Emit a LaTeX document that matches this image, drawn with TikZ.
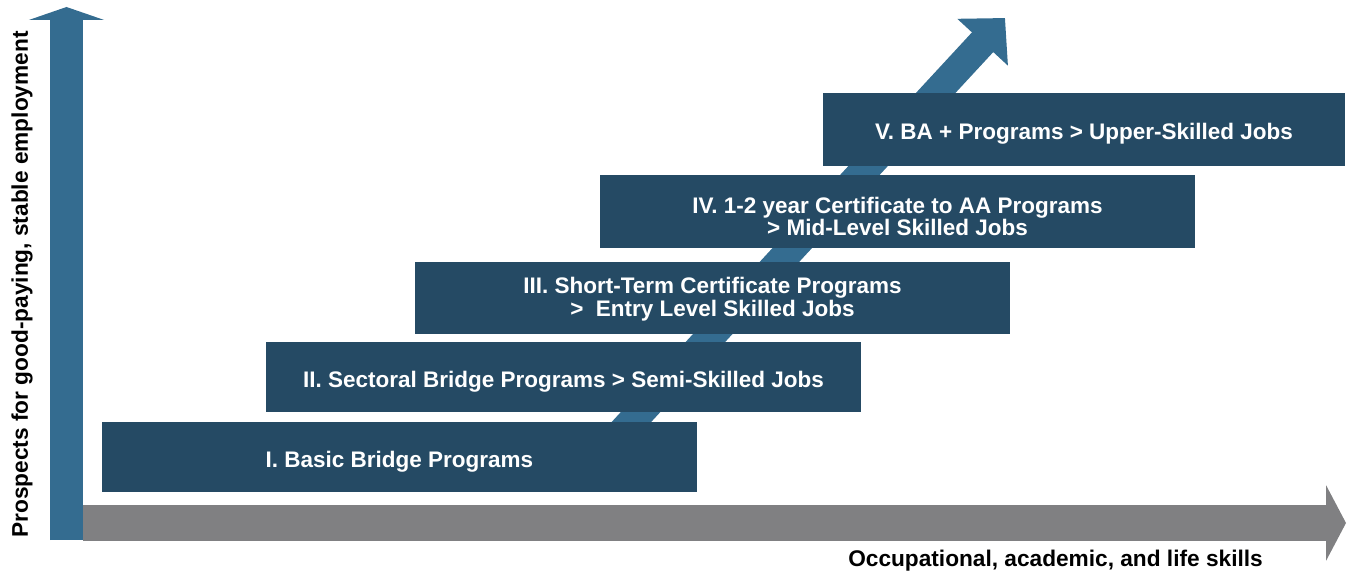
\documentclass[tikz,border=0pt]{standalone}
\usepackage{fontspec}
\setmainfont{Liberation Sans}
\definecolor{stageblue}{RGB}{37, 74, 100}
\definecolor{arrowblue}{RGB}{52, 108, 144}
\definecolor{axisgray}{RGB}{128, 128, 130}
\usetikzlibrary{arrows.meta}
\usetikzlibrary{positioning}
\newcommand{\stagedrop}[1]{\rule{0pt}{#1}}
\tikzset{
  stage/.style={
    fill=stageblue, text=white, inner sep=0,
    minimum width=11.9cm, minimum height=1.4cm,
    align=center, font=\bfseries\fontsize{12.8}{13}\selectfont
  },
  axislabel/.style={font=\bfseries\fontsize{12.9}{14}\selectfont, inner sep=0}
}

\begin{document}
\begin{tikzpicture}
    \useasboundingbox (0,0) rectangle (27.02,11.4);

    % axes
    \coordinate (xstart) at (1.66,0.94);
    \coordinate (xend) at (26.92,0.94);
    \coordinate (ystart) at (1.33,0.6);
    \coordinate (yend) at (1.33,11.26);
    \draw [axisgray, line width=0.72cm,
           -{Triangle[length=0.4cm,width=1.5cm]}] (xstart) -- (xend);
    \draw [arrowblue, line width=0.66cm,
           -{Triangle[length=0.26cm,width=1.5cm]}] (ystart) -- (yend);

    % rising arrow behind the steps
    \coordinate (rstart) at (12.11,2.4);
    \coordinate (rend) at (20.1,11.04);
    \draw [arrowblue, line width=0.58cm,
           -{Triangle[length=0.66cm,width=1.34cm]}] (rstart) -- (rend);

    % steps
    \node [stage] (s1) at (7.99,2.26)
          {\stagedrop{15pt}I. Basic Bridge Programs};
    \node [stage] (s2) at (11.27,3.86)
          {\stagedrop{15pt}II. Sectoral Bridge Programs > Semi-Skilled Jobs};
    \node [stage, minimum height=1.44cm] (s3) at (14.25,5.44)
          {\stagedrop{10.5pt}III. Short-Term Certificate Programs\\>\ \ Entry Level Skilled Jobs};
    \node [stage, minimum height=1.46cm] (s4) at (17.95,7.17)
          {\stagedrop{15pt}IV. 1-2 year Certificate to AA Programs\\> Mid-Level Skilled Jobs};
    \node [stage, minimum height=1.46cm, minimum width=10.44cm] (s5)
          at (21.68,8.81) {\stagedrop{14pt}V. BA + Programs > Upper-Skilled Jobs};

    % axis labels
    \node [axislabel, rotate=90] (ylab) at (0.44,5.71)
          {Prospects for good-paying, stable employment};
    \node [axislabel] (xlab) at (21.11,0.18)
          {Occupational, academic, and life skills};
\end{tikzpicture}
\end{document}
